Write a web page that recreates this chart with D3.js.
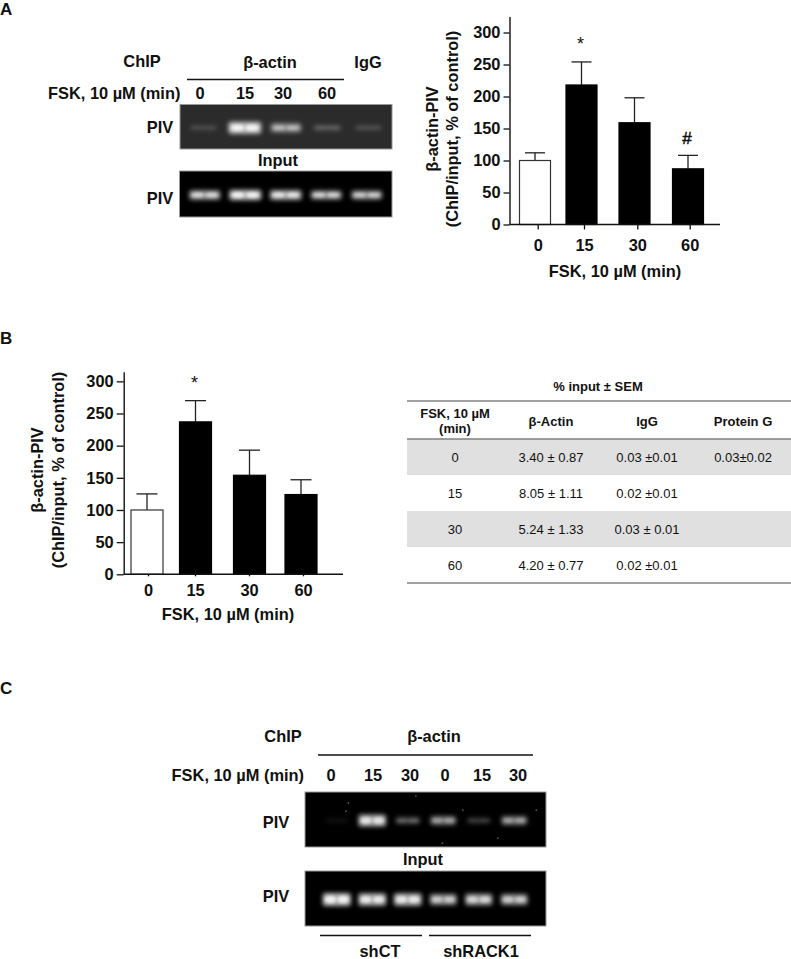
<!DOCTYPE html>
<html>
<head>
<meta charset="utf-8">
<script src="https://cdn.jsdelivr.net/npm/d3@7"></script>
<style>
  html, body { margin: 0; padding: 0; background: #fff; }
  svg { display: block; }
  text { font-family: "Liberation Sans", Arial, sans-serif; fill: #111; }
</style>
</head>
<body>
<div id="chart"></div>
<script>
// bar chart values
var minutes = ['0', '15', '30', '60'];
var panelA_values = [100, 218, 159, 87];
var panelA_err_top = [112, 254, 198, 108];
var panelA_marks = ['', '*', '', '#'];
var panelB_values = [100, 237, 154, 124];
var panelB_err_top = [125, 270, 193, 147];
var panelB_marks = ['', '*', '', ''];
var y_ticks = [0, 50, 100, 150, 200, 250, 300];

// gel band brightness per lane, 0 to 1
var gelA_chip = [0.2, 1, 0.68, 0.3, 0.22];
var gelA_input = [0.85, 1, 0.92, 0.82, 0.8];
var gelC_chip = [0.1, 0.92, 0.42, 0.62, 0.28, 0.62];
var gelC_input = [1, 0.95, 0.95, 0.8, 0.85, 0.8];

// stray specks on the gel C ChIP lane, percent of gel width / height
var gelC_speck_x = [17, 18, 65.5, 96, 80, 57, 46];
var gelC_speck_y = [35, 20, 33, 33, 84, 93, 7];

// table
var table_cols = ['FSK', 'b-Actin', 'IgG', 'Protein G'];
var table_minutes = ['0', '15', '30', '60'];
var table_actin = ['3.40 ± 0.87', '8.05 ± 1.11', '5.24 ± 1.33', '4.20 ± 0.77'];
var table_igg = ['0.03 ±0.01', '0.02 ±0.01', '0.03 ± 0.01', '0.02 ±0.01'];
var table_protein = ['0.03±0.02', '', '', ''];

var lanes_A = ['a', 'b', 'c', 'd', 'e'];
var lanes_C = ['0', '15', '30', '0b', '15b', '30b'];

var svg = d3.select('#chart').append('svg')
  .attr('width', 791)
  .attr('height', 959);

var defs = svg.append('defs');
defs.append('filter').attr('id', 'glow').attr('x', '-30%').attr('y', '-100%').attr('width', '160%').attr('height', '300%')
  .append('feGaussianBlur').attr('stdDeviation', 2);
defs.append('filter').attr('id', 'core').attr('x', '-50%').attr('y', '-120%').attr('width', '200%').attr('height', '340%')
  .append('feGaussianBlur').attr('stdDeviation', 1.4);
defs.append('filter').attr('id', 'speck').attr('x', '-100%').attr('y', '-100%').attr('width', '300%').attr('height', '300%')
  .append('feGaussianBlur').attr('stdDeviation', 0.7);

function label(txt, x, y, opts){
  opts = opts || {};
  return svg.append('text')
    .attr('x', x)
    .attr('y', y)
    .attr('text-anchor', opts.anchor || 'middle')
    .style('font-size', (opts.size || 16.4) + 'px')
    .style('font-weight', opts.weight || 'bold')
    .text(txt);
}

function rule(x1, x2, y, color, width){
  svg.append('line')
    .attr('x1', x1).attr('x2', x2)
    .attr('y1', y).attr('y2', y)
    .style('stroke', color || '#111')
    .style('stroke-width', width || 1.3);
}

// one gel image: dark rect plus a row of blurred bands
function draw_gel(values, domain, x0, x1, y0, y1, pad, bg, max_h){
  var lane = d3.scaleBand().domain(domain).range([x0 + pad, x1 - pad]);
  var band_w = d3.scaleLinear().domain([0, 1]).range([0.62, 0.8]);
  var band_h = d3.scaleLinear().domain([0, 1]).range([3, max_h]);
  var mid = (y0 + y1) / 2 + 1;

  var g = svg.append('g');
  g.append('rect')
    .attr('x', x0).attr('y', y0)
    .attr('width', x1 - x0).attr('height', y1 - y0)
    .style('fill', bg)
    .style('stroke', '#999')
    .style('stroke-width', 1);

  var rows = values.map(function(v, i){ return {lane: domain[i], v: v}; });

  g.selectAll('rect.band').data(rows).enter().append('rect')
    .attr('class', 'band')
    .attr('x', function(d){ return lane(d.lane) + lane.bandwidth() * (1 - band_w(d.v)) / 2; })
    .attr('y', function(d){ return mid - band_h(d.v) / 2; })
    .attr('width', function(d){ return lane.bandwidth() * band_w(d.v); })
    .attr('height', function(d){ return band_h(d.v); })
    .attr('rx', 3)
    .attr('filter', 'url(#glow)')
    .style('fill', '#fff')
    .style('fill-opacity', function(d){ return d.v * 0.7; });

  // two brighter lobes inside each band
  _lobes(g, rows, lane, band_w, band_h, mid, -0.22);
  _lobes(g, rows, lane, band_w, band_h, mid, 0.22);
  return g;
}

function _lobes(g, rows, lane, band_w, band_h, mid, side){
  g.append('g').selectAll('ellipse').data(rows).enter().append('ellipse')
    .attr('cx', function(d){ return lane(d.lane) + lane.bandwidth() * (0.5 + side * band_w(d.v)); })
    .attr('cy', mid)
    .attr('rx', function(d){ return lane.bandwidth() * band_w(d.v) * 0.2; })
    .attr('ry', function(d){ return band_h(d.v) * 0.26; })
    .attr('filter', 'url(#core)')
    .style('fill', '#fff')
    .style('fill-opacity', function(d){ return d.v * d.v * 0.8; });
}

// one bar chart panel
function draw_bars(cfg){
  var y = d3.scaleLinear().domain([0, cfg.y_max]).range([cfg.base, cfg.top]);
  var x = d3.scaleOrdinal().domain(minutes).range(cfg.centers);
  var x_tick = d3.scaleOrdinal().domain(minutes).range(cfg.ticks);
  var rows = minutes.map(function(m, i){
    return {m: m, v: cfg.values[i], e: cfg.err[i], mark: cfg.marks[i]};
  });

  var g = svg.append('g').attr('class', 'bars');

  // error bars go under the bar
  g.selectAll('line.err').data(rows).enter().append('line')
    .attr('class', 'err')
    .attr('x1', function(d){ return x(d.m); })
    .attr('x2', function(d){ return x(d.m); })
    .attr('y1', function(d){ return y(d.v); })
    .attr('y2', function(d){ return y(d.e); })
    .style('stroke', '#222').style('stroke-width', 1.3);

  g.selectAll('line.cap').data(rows).enter().append('line')
    .attr('class', 'cap')
    .attr('x1', function(d){ return x(d.m) - cfg.cap / 2; })
    .attr('x2', function(d){ return x(d.m) + cfg.cap / 2; })
    .attr('y1', function(d){ return y(d.e); })
    .attr('y2', function(d){ return y(d.e); })
    .style('stroke', '#222').style('stroke-width', 1.3);

  g.selectAll('rect.bar').data(rows).enter().append('rect')
    .attr('class', 'bar')
    .attr('x', function(d){ return x(d.m) - cfg.bar_w / 2; })
    .attr('y', function(d){ return y(d.v); })
    .attr('width', cfg.bar_w)
    .attr('height', function(d){ return cfg.base - y(d.v); })
    .style('fill', function(d, i){ return i === 0 ? '#fff' : '#000'; })
    .style('stroke', function(d, i){ return i === 0 ? '#333' : '#000'; })
    .style('stroke-width', 1.2);

  g.selectAll('text.mark').data(rows.filter(function(d){ return d.mark; })).enter().append('text')
    .attr('class', 'mark')
    .attr('x', function(d){ return x(d.m) - 1; })
    .attr('y', function(d){ return y(d.e) - (d.mark === '#' ? 11 : 12); })
    .attr('text-anchor', 'middle')
    .style('font-size', function(d){ return d.mark === '#' ? '17px' : '18px'; })
    .style('font-weight', 'normal')
    .style('stroke', '#111')
    .style('stroke-width', function(d){ return d.mark === '#' ? 0.5 : 0; })
    .text(function(d){ return d.mark; });

  var y_axis = d3.axisLeft(y).tickValues(y_ticks).tickSize(cfg.y_tick).tickSizeOuter(0).tickPadding(3);
  var ay = svg.append('g')
    .attr('transform', 'translate(' + cfg.axis_x + ',0)')
    .call(y_axis);

  var x_axis = d3.axisBottom(x_tick).tickSize(cfg.x_tick).tickSizeOuter(0).tickPadding(cfg.x_pad);
  var ax = svg.append('g')
    .attr('transform', 'translate(0,' + cfg.base + ')')
    .call(x_axis);
  ax.select('.domain').remove();
  rule(cfg.axis_x, cfg.x_end, cfg.base, '#111', 1.4);

  [ay, ax].forEach(function(a){
    a.selectAll('text')
      .style('font-family', '"Liberation Sans", Arial, sans-serif')
      .style('font-size', '16.4px')
      .style('font-weight', 'bold');
    a.selectAll('line').style('stroke', '#111').style('stroke-width', 1.3);
    a.selectAll('.domain').style('stroke', '#111').style('stroke-width', 1.4);
  });

  label('FSK, 10 µM (min)', cfg.xlab_x, cfg.xlab_y);

  // rotated y title, two lines
  [['β-actin-PIV', cfg.title_x1], ['(ChIP/input, % of control)', cfg.title_x2]].forEach(function(t){
    svg.append('text')
      .attr('transform', 'translate(' + t[1] + ',' + cfg.title_y + ') rotate(-90)')
      .attr('text-anchor', 'middle')
      .style('font-size', '16.4px')
      .style('font-weight', 'bold')
      .text(t[0]);
  });
}

// Panel A
/////////////////////////////////////
label('A', 0, 15, {anchor: 'start', size: 17});
label('ChIP', 142, 67);
label('β-actin', 270, 68);
label('IgG', 368, 68);
rule(187, 344, 79.5);
label('FSK, 10 µM (min)', 48, 99, {anchor: 'start'});
d3.zip(['0', '15', '30', '60'], [200, 245, 283, 327]).forEach(function(t){
  label(t[0], t[1], 99);
});
label('PIV', 160, 133);
label('Input', 278, 166);
label('PIV', 160, 204);
draw_gel(gelA_chip, lanes_A, 180, 392, 104.5, 149, 3, '#2b2b2b', 12);
draw_gel(gelA_input, lanes_A, 179.5, 392, 171, 217, 5, '#000', 10.5);

draw_bars({
  values: panelA_values, err: panelA_err_top, marks: panelA_marks,
  base: 224.5, top: 16.5, y_max: 325,
  centers: [535, 581.5, 634.5, 688], ticks: [537.7, 584, 637.3, 689.7],
  bar_w: 31, cap: 20,
  axis_x: 509.5, x_end: 720, y_tick: 6, x_tick: 5, x_pad: 10,
  xlab_x: 615, xlab_y: 277,
  title_x1: 438, title_x2: 458, title_y: 129
});

// Panel B
/////////////////////////////////////
label('B', 0, 344, {anchor: 'start', size: 17});
draw_bars({
  values: panelB_values, err: panelB_err_top, marks: panelB_marks,
  base: 574.3, top: 371.7, y_max: 315,
  centers: [147, 195.5, 249.5, 301], ticks: [148, 195, 249, 303],
  bar_w: 32, cap: 21,
  axis_x: 123.7, x_end: 343, y_tick: 7, x_tick: 2, x_pad: 8,
  xlab_x: 228, xlab_y: 619.5,
  title_x1: 43, title_x2: 64, title_y: 470
});

// table next to B
var col_x = d3.scalePoint().domain(table_cols).range([455, 743]);
var row_y = d3.scaleBand().domain(table_minutes).range([439, 583]);
var tsize = 13;

table_minutes.forEach(function(m, i){
  if (i % 2 === 0){
    svg.append('rect')
      .attr('x', 407).attr('y', row_y(m))
      .attr('width', 384).attr('height', row_y.bandwidth())
      .style('fill', '#e0e0e0');
  }
});
rule(407, 791, 401, '#808080', 1.3);
rule(407, 791, 439, '#808080', 1.3);
rule(407, 791, 583, '#808080', 1.3);

label('% input ± SEM', 598, 391, {size: tsize});
label('FSK, 10 µM', col_x('FSK'), 418, {size: tsize});
label('(min)', col_x('FSK'), 433, {size: tsize});
label('β-Actin', col_x('b-Actin'), 426, {size: tsize});
label('IgG', col_x('IgG'), 426, {size: tsize});
label('Protein G', col_x('Protein G'), 426, {size: tsize});

[table_minutes, table_actin, table_igg, table_protein].forEach(function(col, c){
  col.forEach(function(txt, r){
    if (!txt) return;
    label(txt, col_x(table_cols[c]), row_y(table_minutes[r]) + row_y.bandwidth() / 2 + 5, {size: tsize, weight: 'normal'});
  });
});

// Panel C
/////////////////////////////////////
label('C', 0, 694, {anchor: 'start', size: 17});
label('ChIP', 283, 742);
label('β-actin', 434, 742);
rule(318, 533, 755);
label('FSK, 10 µM (min)', 304, 781, {anchor: 'end'});
d3.zip(['0', '15', '30', '0', '15', '30'], [331, 373, 410, 445, 482, 518]).forEach(function(t){
  label(t[0], t[1], 781);
});
label('PIV', 276, 828);
label('Input', 423, 865);
label('PIV', 276, 902);
var gel_c = draw_gel(gelC_chip, lanes_C, 305, 546, 792, 847, 14, '#000', 13);
draw_gel(gelC_input, lanes_C, 305, 546, 871, 926, 14, '#000', 13);

var speck_x = d3.scaleLinear().domain([0, 100]).range([305, 546]);
var speck_y = d3.scaleLinear().domain([0, 100]).range([792, 847]);
gel_c.selectAll('circle').data(d3.zip(gelC_speck_x, gelC_speck_y)).enter().append('circle')
  .attr('cx', function(d){ return speck_x(d[0]); })
  .attr('cy', function(d){ return speck_y(d[1]); })
  .attr('r', 0.9)
  .attr('filter', 'url(#speck)')
  .style('fill', '#555');

rule(320, 422, 935.5);
rule(429, 531, 935.5);
label('shCT', 380, 957);
label('shRACK1', 481, 957);
</script>
</body>
</html>
